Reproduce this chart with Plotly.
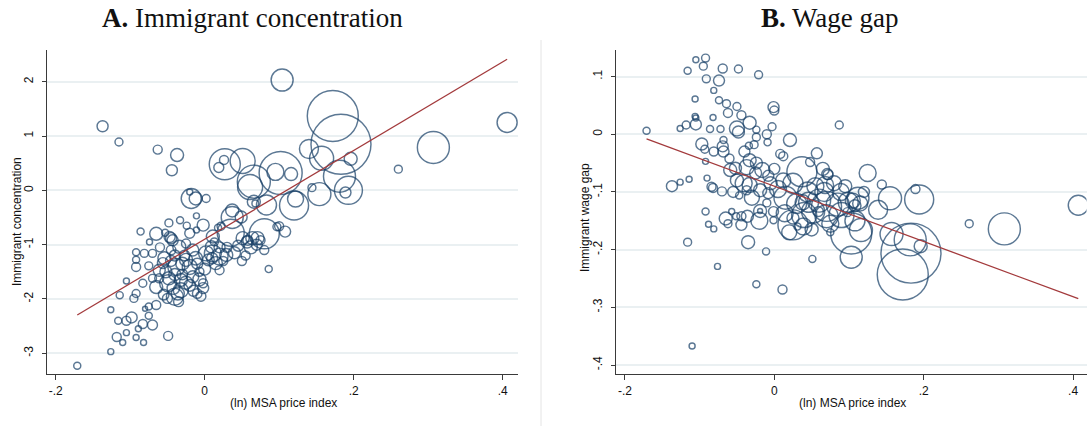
import numpy as np
import plotly.graph_objects as go

# ---------------- Panel A: immigrant concentration ----------------
a_price = [
    0.104, -0.137, -0.115, -0.063, -0.037, -0.044, 0.027, 0.051, 0.019, 0.026,
    0.066, 0.061, 0.102, 0.095, 0.116, 0.140, 0.144, 0.120, 0.122, 0.083,
    0.066, 0.080, 0.037, 0.037, 0.049, -0.018, -0.012, -0.020, 0.002, -0.011,
    -0.002, -0.011, -0.048, -0.033, -0.024, -0.086, -0.065, -0.074, -0.053, -0.045,
    0.022, 0.097, 0.108, 0.057, 0.172, 0.183, 0.406, 0.307, 0.260, 0.157,
    0.196, 0.181, 0.189, 0.193, 0.154, 0.071, 0.011, 0.018, -0.171, -0.126,
    -0.110, -0.118, -0.105, -0.092, -0.082, -0.049, -0.116, -0.126, -0.105, -0.098,
    -0.089, -0.083, -0.070, -0.075, -0.114, -0.095, -0.092, -0.105, -0.083, -0.092,
    -0.092, -0.092, -0.081, -0.070, -0.075, -0.054, -0.061, -0.065, -0.065, -0.075,
    -0.080, -0.049, -0.048, -0.040, -0.036, -0.032, -0.050, -0.032, -0.038, -0.020,
    -0.016, -0.007, -0.002, -0.002, -0.007, -0.025, -0.016, -0.025, -0.034, -0.043,
    -0.047, -0.056, -0.061, -0.070, -0.052, 0.002, 0.011, 0.020, 0.029, 0.015,
    0.020, 0.009, 0.013, 0.035, 0.051, 0.058, 0.064, 0.075, 0.086, -0.020,
    0.045, 0.062, 0.055, 0.030, 0.100, 0.068, -0.027, -0.012, 0.005, -0.045,
    -0.030, -0.020, -0.042, -0.055, -0.010, -0.045, -0.030, -0.010, 0.000, 0.010,
    0.025, -0.040, -0.025, -0.015, -0.005, -0.035, -0.060, -0.040, 0.020, 0.040,
    0.050, 0.070, 0.080,
]
a_conc = [
    2.03, 1.18, 0.89, 0.75, 0.65, 0.37, 0.48, 0.54, 0.42, 0.56,
    0.16, 0.06, 0.32, 0.34, 0.30, 0.76, 0.05, -0.28, -0.16, -0.27,
    -0.21, -0.80, -0.37, -0.50, -0.49, -0.15, -0.15, -0.03, -0.15, -0.47,
    -0.64, -0.73, -0.60, -0.55, -0.65, -0.76, -0.80, -0.95, -0.78, -0.88,
    -0.66, -0.67, -0.76, -0.95, 1.37, 0.85, 1.25, 0.79, 0.39, 0.59,
    0.58, 0.26, -0.04, 0.00, -0.07, -0.88, -0.85, -0.69, -3.23, -2.97,
    -2.80, -2.70, -2.62, -2.71, -2.80, -2.68, -2.40, -2.20, -2.40, -2.34,
    -2.55, -2.46, -2.48, -2.31, -1.93, -1.99, -1.90, -1.67, -1.71, -1.41,
    -1.28, -1.14, -1.16, -1.16, -1.39, -1.25, -1.47, -1.78, -2.11, -2.14,
    -2.18, -1.71, -1.62, -1.96, -1.90, -1.84, -1.99, -1.65, -1.41, -1.41,
    -1.59, -1.50, -1.80, -1.71, -1.64, -1.28, -1.10, -0.98, -1.04, -0.92,
    -0.86, -1.34, -1.62, -1.62, -1.50, -1.16, -1.16, -1.22, -1.19, -1.34,
    -1.47, -1.04, -0.95, -0.78, -0.88, -0.92, -0.88, -0.92, -1.45, -0.79,
    -1.02, -1.05, -1.20, -1.05, -0.66, -0.24, -1.20, -1.25, -1.28, -1.10,
    -1.55, -1.75, -1.80, -1.92, -1.90, -1.30, -1.35, -1.35, -1.45, -1.25,
    -1.30, -1.55, -1.70, -1.85, -1.95, -2.05, -1.05, -1.20, -1.05, -1.15,
    -1.30, -1.00, -1.10,
]
a_pop = [
    2.15, 0.54, 0.28, 0.36, 0.75, 0.54, 4.27, 2.78, 0.44, 0.36,
    4.84, 2.78, 8.22, 1.28, 0.75, 1.60, 0.28, 3.74, 1.14, 1.78,
    0.75, 4.00, 0.75, 2.15, 0.64, 1.78, 0.75, 0.16, 0.28, 0.16,
    0.64, 0.16, 0.28, 0.22, 0.22, 0.22, 0.75, 0.16, 0.22, 0.54,
    0.28, 0.28, 0.54, 0.64, 11.56, 16.00, 1.78, 4.55, 0.28, 2.56,
    0.75, 4.55, 0.54, 3.48, 2.35, 0.75, 0.75, 0.22, 0.22, 0.16,
    0.16, 0.36, 0.16, 0.16, 0.16, 0.36, 0.22, 0.16, 0.36, 0.54,
    0.16, 0.36, 0.44, 0.22, 0.22, 0.28, 0.28, 0.16, 0.28, 0.36,
    0.22, 0.22, 0.28, 0.28, 0.28, 0.75, 0.64, 0.75, 0.36, 0.22,
    0.11, 1.28, 0.75, 1.28, 0.75, 1.00, 0.44, 0.75, 1.28, 1.00,
    0.64, 0.36, 0.54, 0.36, 0.75, 0.75, 0.64, 0.36, 0.75, 0.54,
    0.54, 0.54, 0.36, 0.28, 0.64, 1.00, 1.28, 1.28, 0.75, 0.75,
    0.36, 0.64, 0.28, 3.24, 0.75, 0.44, 0.75, 0.36, 0.22, 0.44,
    0.54, 0.75, 0.36, 0.44, 0.36, 0.20, 0.50, 0.80, 0.60, 0.40,
    0.50, 0.60, 0.70, 0.50, 0.40, 0.54, 0.75, 0.54, 0.64, 0.54,
    0.36, 0.64, 0.75, 0.54, 0.44, 0.44, 0.36, 0.54, 0.54, 0.64,
    0.36, 0.54, 0.36,
]

# ---------------- Panel B: wage gap ----------------
b_price = [
    -0.171, -0.126, -0.118, -0.105, -0.106, -0.106, -0.116, -0.105, -0.095, -0.092,
    -0.091, -0.097, -0.069, -0.074, -0.048, -0.021, -0.081, -0.074, -0.064, -0.050,
    -0.062, -0.044, -0.001, 0.000, -0.033, -0.050, -0.048, -0.082, -0.105, -0.086,
    -0.072, -0.003, -0.024, -0.024, -0.009, 0.021, -0.034, -0.027, 0.087, -0.093,
    -0.068, -0.069, -0.068, -0.081, -0.060, -0.092, 0.008, 0.012, 0.057, 0.048,
    -0.033, -0.037, -0.024, -0.059, -0.052, -0.025, -0.016, -0.008, -0.041, -0.033,
    -0.137, -0.126, -0.114, -0.090, -0.084, -0.082, -0.070, -0.047, -0.037, -0.019,
    -0.008, 0.037, 0.025, 0.012, 0.072, 0.045, 0.067, 0.089, 0.105, -0.092,
    -0.088, -0.081, -0.065, -0.062, -0.057, -0.051, -0.044, -0.036, -0.044, -0.019,
    -0.019, -0.001, -0.001, -0.010, 0.014, 0.025, 0.025, 0.031, 0.038, 0.052,
    0.059, 0.070, 0.075, 0.099, 0.108, -0.116, -0.035, -0.011, -0.076, -0.024,
    0.011, 0.051, -0.110, 0.103, 0.071, 0.125, 0.144, 0.155, 0.194, 0.189,
    0.112, 0.115, 0.139, 0.116, 0.103, 0.157, 0.182, 0.183, 0.172, 0.196,
    0.261, 0.308, 0.407, 0.068, 0.070, 0.085, 0.046, 0.108, 0.098, 0.039,
    0.005, 0.015, 0.030, 0.055, 0.060, 0.080, 0.090, 0.075, 0.040, 0.020,
    -0.005, -0.030, -0.050, -0.020, 0.000, 0.065, 0.095, 0.120, 0.050, -0.040,
    -0.010, -0.055,
]
b_gap = [
    0.006, 0.010, 0.016, 0.017, 0.031, 0.061, 0.110, 0.129, 0.118, 0.132,
    0.096, -0.017, 0.114, 0.093, 0.113, 0.103, 0.076, 0.059, 0.053, 0.048,
    0.037, 0.033, 0.047, 0.041, 0.020, 0.010, 0.004, 0.029, 0.028, 0.009,
    0.009, 0.013, 0.008, -0.005, -0.014, -0.010, -0.020, -0.018, 0.016, -0.026,
    -0.010, -0.021, -0.030, -0.030, -0.042, -0.047, -0.034, -0.038, -0.033, -0.048,
    -0.045, -0.057, -0.050, -0.062, -0.059, -0.067, -0.062, -0.072, -0.085, -0.088,
    -0.090, -0.083, -0.078, -0.076, -0.091, -0.093, -0.099, -0.106, -0.097, -0.097,
    -0.102, -0.065, -0.085, -0.080, -0.070, -0.100, -0.100, -0.100, -0.115, -0.134,
    -0.156, -0.164, -0.146, -0.155, -0.134, -0.142, -0.157, -0.142, -0.142, -0.133,
    -0.133, -0.134, -0.149, -0.119, -0.137, -0.145, -0.157, -0.160, -0.118, -0.134,
    -0.134, -0.142, -0.170, -0.118, -0.150, -0.187, -0.187, -0.203, -0.229, -0.260,
    -0.269, -0.216, -0.367, -0.213, -0.069, -0.067, -0.087, -0.111, -0.113, -0.095,
    -0.111, -0.120, -0.131, -0.166, -0.172, -0.173, -0.183, -0.206, -0.243, -0.194,
    -0.155, -0.164, -0.123, -0.088, -0.125, -0.122, -0.118, -0.124, -0.135, -0.160,
    -0.095, -0.110, -0.120, -0.090, -0.115, -0.085, -0.140, -0.155, -0.140, -0.170,
    -0.085, -0.110, -0.080, -0.150, -0.060, -0.060, -0.090, -0.100, -0.165, -0.030,
    0.000, -0.100,
]
b_pop = [
    0.22, 0.16, 0.28, 0.54, 0.16, 0.16, 0.22, 0.16, 0.28, 0.28,
    0.28, 0.64, 0.36, 0.54, 0.28, 0.28, 0.16, 0.22, 0.28, 0.28,
    0.36, 0.36, 0.54, 0.36, 0.75, 1.00, 0.64, 0.16, 0.16, 0.22,
    0.22, 0.28, 0.22, 0.28, 0.22, 0.75, 0.22, 0.28, 0.28, 0.28,
    0.22, 0.54, 0.54, 0.36, 0.36, 0.16, 0.36, 0.36, 0.54, 0.36,
    0.75, 1.00, 0.64, 0.75, 0.64, 0.64, 1.00, 0.54, 1.28, 1.00,
    0.54, 0.16, 0.16, 0.16, 0.36, 0.36, 0.36, 0.22, 0.36, 0.75,
    0.54, 4.00, 1.78, 1.00, 0.44, 1.78, 1.60, 1.28, 1.00, 0.22,
    0.16, 0.16, 0.75, 0.28, 0.16, 0.22, 0.54, 0.64, 0.36, 0.75,
    0.11, 0.44, 0.22, 0.28, 1.28, 0.64, 4.00, 0.22, 1.00, 2.35,
    0.44, 2.35, 0.22, 1.78, 1.78, 0.28, 0.75, 0.22, 0.16, 0.22,
    0.36, 0.22, 0.16, 2.15, 0.54, 1.28, 0.36, 2.35, 3.74, 0.36,
    2.15, 1.00, 1.60, 2.35, 7.47, 2.35, 4.55, 16.00, 11.56, 0.75,
    0.28, 4.55, 1.78, 1.28, 4.00, 2.35, 1.78, 0.64, 0.36, 1.28,
    1.28, 2.35, 1.78, 1.28, 2.35, 1.00, 2.78, 1.28, 2.78, 1.00,
    0.75, 1.00, 0.75, 1.28, 0.54, 0.75, 0.75, 0.54, 0.75, 0.54,
    0.36, 0.54,
]

# Weighted fit lines: (intercept, slope)
a_fit = (-0.90, 8.16)
b_fit = (-0.090, -0.479)

x_ticks = [-0.2, 0.0, 0.2, 0.4]
x_tick_text = ["-.2", "0", ".2", ".4"]
a_y_ticks = [-3, -2, -1, 0, 1, 2]
a_y_tick_text = ["-3", "-2", "-1", "0", "1", "2"]
b_y_ticks = [-0.4, -0.3, -0.2, -0.1, 0.0, 0.1]
b_y_tick_text = ["-.4", "-.3", "-.2", "-.1", "0", ".1"]

NAVY = "#173f67"
FIT = "#a33a3c"
AXIS = "#3a3a3a"
GRID = "#eaf0f2"
SANS = "Liberation Sans, Arial, sans-serif"
SERIF = "Liberation Serif, Times New Roman, serif"

W, H = 1090, 426


def bubble_diam(pop):
    # marker area proportional to population weight
    return 15.0 * np.sqrt(np.asarray(pop, dtype=float))


def fit_line(xs, fit):
    x0, x1 = min(xs), max(xs)
    return [x0, x1], [fit[0] + fit[1] * x0, fit[0] + fit[1] * x1]


fig = go.Figure()

for xs, ys, pop, fit, xa, ya in [
    (a_price, a_conc, a_pop, a_fit, "x", "y"),
    (b_price, b_gap, b_pop, b_fit, "x2", "y2"),
]:
    fig.add_trace(go.Scatter(
        x=xs, y=ys, mode="markers", xaxis=xa, yaxis=ya,
        marker=dict(size=bubble_diam(pop), sizemode="diameter",
                    color="rgba(0,0,0,0)",
                    line=dict(color=NAVY, width=1.45)),
        hoverinfo="skip", showlegend=False,
    ))
    lx, ly = fit_line(xs, fit)
    fig.add_trace(go.Scatter(
        x=lx, y=ly, mode="lines", xaxis=xa, yaxis=ya,
        line=dict(color=FIT, width=1.3),
        hoverinfo="skip", showlegend=False,
    ))

y_dom = [1 - 374.3 / H, 1 - 50 / H]
common_x = dict(
    showline=True, linecolor=AXIS, linewidth=1.2,
    ticks="outside", ticklen=5, tickwidth=1.2, tickcolor=AXIS,
    tickvals=x_ticks, ticktext=x_tick_text,
    tickfont=dict(family=SANS, size=12, color="#111"),
    showgrid=False, zeroline=False,
)
common_y = dict(
    showline=True, linecolor=AXIS, linewidth=1.2,
    ticks="outside", ticklen=4, tickwidth=1.2, tickcolor=AXIS,
    tickangle=-90, tickfont=dict(family=SANS, size=12, color="#111"),
    ticklabelstandoff=4,
    showgrid=True, gridcolor=GRID, gridwidth=1.5, zeroline=False,
    domain=y_dom,
)

fig.update_layout(
    width=W, height=H,
    margin=dict(l=0, r=0, t=0, b=0),
    paper_bgcolor="white", plot_bgcolor="white",
    xaxis=dict(domain=[47.3 / W, 518 / W], range=[-0.2112, 0.4206],
               anchor="y", **common_x),
    yaxis=dict(range=[-3.387, 2.584], anchor="x",
               tickvals=a_y_ticks, ticktext=a_y_tick_text, **common_y),
    xaxis2=dict(domain=[616 / W, 1086.5 / W], range=[-0.2119, 0.418],
                anchor="y2", **common_x),
    yaxis2=dict(range=[-0.416, 0.146], anchor="x2",
                tickvals=b_y_ticks, ticktext=b_y_tick_text, **common_y),
)

annotations = [
    dict(text="<b>A.</b> Immigrant concentration", x=252 / W, y=1 - 18 / H,
         font=dict(family=SERIF, size=27, color="#111")),
    dict(text="<b>B.</b> Wage gap", x=830 / W, y=1 - 18 / H,
         font=dict(family=SERIF, size=27, color="#111")),
    dict(text="(ln) MSA price index", x=283 / W, y=1 - 403 / H,
         font=dict(family=SANS, size=12, color="#111")),
    dict(text="(ln) MSA price index", x=852 / W, y=1 - 403 / H,
         font=dict(family=SANS, size=12, color="#111")),
    dict(text="Immigrant concentration", x=17 / W, y=1 - 222 / H, textangle=-90,
         font=dict(family=SANS, size=12, color="#111")),
    dict(text="Immigrant wage gap", x=585 / W, y=1 - 218 / H, textangle=-90,
         font=dict(family=SANS, size=12, color="#111")),
]
for a in annotations:
    a.update(xref="paper", yref="paper", showarrow=False,
             xanchor="center", yanchor="middle")
fig.update_layout(annotations=annotations)

# faint border between the two panels
fig.add_shape(type="line", xref="paper", yref="paper",
              x0=541 / W, x1=541 / W, y0=0, y1=1 - 40 / H,
              line=dict(color="#e4e4e4", width=1))

fig.write_html("out.html")
